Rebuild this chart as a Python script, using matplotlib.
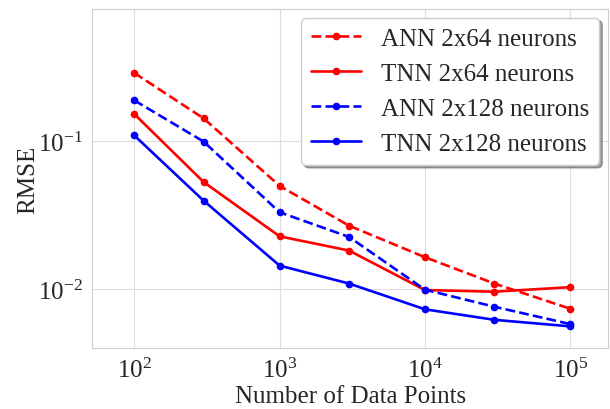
import matplotlib
matplotlib.use("Agg")
import matplotlib.pyplot as plt
import seaborn as sns

sns.set_style("whitegrid")
plt.rcParams['font.family'] = ['Liberation Serif', 'DejaVu Serif']
plt.rcParams['mathtext.fontset'] = 'stix'

n_points = [100, 300, 1000, 3000, 10000, 30000, 100000]
ann_64 = [0.288, 0.142, 0.0497, 0.0268, 0.0164, 0.0109, 0.00736]
tnn_64 = [0.152, 0.0528, 0.0227, 0.0182, 0.00985, 0.0096, 0.0103]
ann_128 = [0.188, 0.099, 0.033, 0.0225, 0.0099, 0.0076, 0.0058]
tnn_128 = [0.109, 0.0395, 0.0144, 0.0109, 0.0073, 0.0062, 0.0056]

fig, ax = plt.subplots(figsize=(6.1, 4.1), dpi=100)
kw = dict(marker='o', markersize=4.5, lw=1.9)
ax.plot(n_points, ann_64, '--', color='red', label='ANN 2x64 neurons', **kw)
ax.plot(n_points, tnn_64, '-', color='red', label='TNN 2x64 neurons', **kw)
ax.plot(n_points, ann_128, '--', color='blue', label='ANN 2x128 neurons', **kw)
ax.plot(n_points, tnn_128, '-', color='blue', label='TNN 2x128 neurons', **kw)
ax.set_xscale('log')
ax.set_yscale('log')
ax.set_xlim(10**1.71, 10**5.26)
ax.set_ylim(10**-2.40, 10**-0.108)
ax.set_xlabel('Number of Data Points', fontsize=18, labelpad=2)
ax.set_ylabel('RMSE', fontsize=18, labelpad=-1)
ax.tick_params(labelsize=18)
ax.minorticks_off()
for s in ax.spines.values():
    s.set_color('#cccccc')
ax.grid(color='#dddddd')
leg = ax.legend(loc='upper right', fontsize=18, shadow=True, frameon=True, framealpha=1,
                labelspacing=0.5, borderaxespad=0.35)
leg.get_frame().set_edgecolor('#cccccc')
fig.subplots_adjust(left=0.151, right=0.997, top=0.976, bottom=0.148)
fig.savefig('out.png', dpi=100)
